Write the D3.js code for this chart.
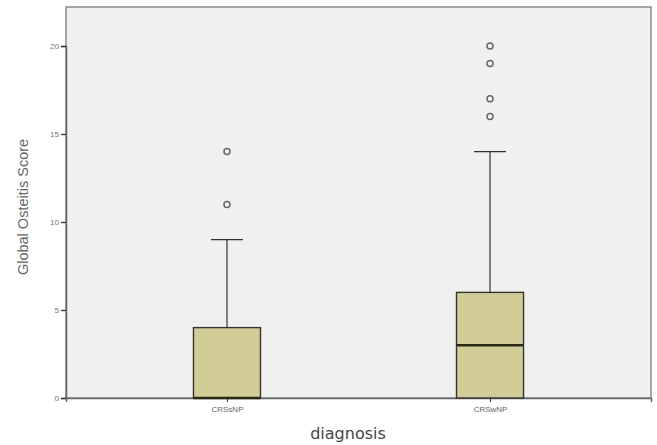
<!DOCTYPE html>
<html><head><meta charset="utf-8">
<script src="https://cdn.jsdelivr.net/npm/d3@7"></script>
<style>body{margin:0;background:#fff}svg{display:block}</style>
</head><body>
<script>
const categories = ["CRSsNP", "CRSwNP"];
const q1 = [0, 0];
const medians = [0, 3];
const q3 = [4, 6];
const whiskerLow = [0, 0];
const whiskerHigh = [9, 14];
const outliers = [[11, 14], [16, 17, 19, 20]];
const yTicks = [0, 5, 10, 15, 20];

const W = 657, H = 445;
const m = {left: 66, right: 6, top: 7, bottom: 47};
const svg = d3.select("body").append("svg").attr("width", W).attr("height", H);

const x = d3.scalePoint().domain(categories).range([m.left, W - m.right]).padding(0.612);
const y = d3.scaleLinear().domain([0, 20]).range([H - m.bottom, 46]);
const y0 = y(0), yTop = m.top;

svg.append("rect").attr("x", m.left).attr("y", yTop).attr("width", W - m.right - m.left)
  .attr("height", y0 - yTop).attr("fill", "#f0f0f0").attr("stroke", "#8a8a8a").attr("stroke-width", 1.5);

// axes
const ya = svg.append("g").attr("transform", `translate(${m.left},0)`)
  .call(d3.axisLeft(y).tickValues(yTicks).tickSize(5).tickPadding(2));
ya.select(".domain").attr("stroke", "#666").attr("stroke-width", 1.5);
ya.selectAll(".tick line").attr("stroke", "#333").attr("stroke-width", 1.3);
ya.selectAll("text").attr("font-family", "Arial, Liberation Sans, sans-serif").attr("font-size", 8).attr("fill", "#777");

const xa = svg.append("g").attr("transform", `translate(0,${y0})`)
  .call(d3.axisBottom(x).tickSize(4).tickPadding(4));
xa.select(".domain").attr("stroke", "#666").attr("stroke-width", 1.5);
xa.selectAll(".tick line").attr("stroke", "#333");
xa.selectAll("text").attr("font-family", "Arial, Liberation Sans, sans-serif").attr("font-size", 8).attr("fill", "#666");

const boxW = 67, capW = 32;
categories.forEach((c, i) => {
  const cx = x(c);
  const g = svg.append("g");
  // whisker
  g.append("line").attr("x1", cx).attr("x2", cx).attr("y1", y(q3[i])).attr("y2", y(whiskerHigh[i]))
    .attr("stroke", "#333").attr("stroke-width", 1.2);
  g.append("line").attr("x1", cx - capW / 2).attr("x2", cx + capW / 2).attr("y1", y(whiskerHigh[i])).attr("y2", y(whiskerHigh[i]))
    .attr("stroke", "#333").attr("stroke-width", 1.4);
  g.append("rect").attr("x", cx - boxW / 2).attr("width", boxW).attr("y", y(q3[i])).attr("height", y(q1[i]) - y(q3[i]))
    .attr("fill", "#d2cd96").attr("stroke", "#333").attr("stroke-width", 1.4);
  g.append("line").attr("x1", cx - boxW / 2).attr("x2", cx + boxW / 2).attr("y1", y(medians[i])).attr("y2", y(medians[i]))
    .attr("stroke", "#2a2a1a").attr("stroke-width", 2.5);
  outliers[i].forEach(v => {
    g.append("circle").attr("cx", cx).attr("cy", y(v)).attr("r", 3)
      .attr("fill", "#f4f4f4").attr("stroke", "#666").attr("stroke-width", 1.5);
  });
});

svg.append("text").attr("transform", `translate(28,207) rotate(-90)`)
  .attr("text-anchor", "middle").attr("font-family", "Arial, Liberation Sans, sans-serif").attr("font-size", 14.5)
  .attr("fill", "#666").text("Global Osteitis Score");
svg.append("text").attr("x", 348).attr("y", 439).attr("text-anchor", "middle")
  .attr("font-family", "DejaVu Sans, sans-serif").attr("font-size", 16).attr("fill", "#444").text("diagnosis");
</script>
</body></html>
